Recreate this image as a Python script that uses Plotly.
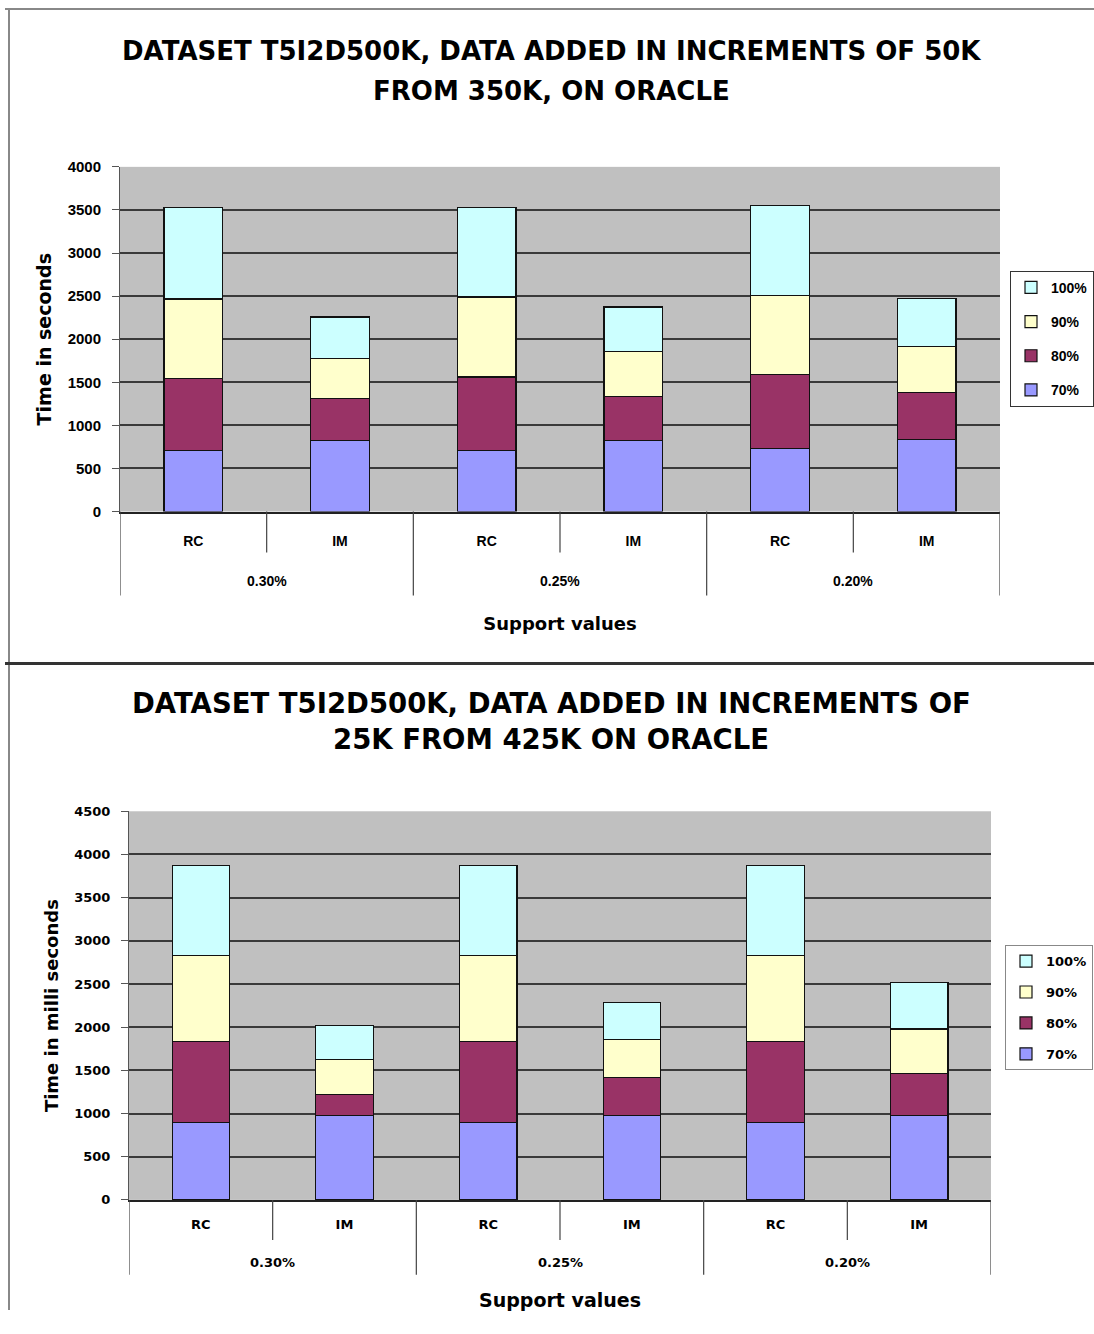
import plotly.graph_objects as go
from plotly.subplots import make_subplots

# ---- data ----
support_groups = ["0.30%", "0.30%", "0.25%", "0.25%", "0.20%", "0.20%"]
methods = ["RC", "IM", "RC", "IM", "RC", "IM"]
series_names = ["70%", "80%", "90%", "100%"]
colors = ["#9999FF", "#993366", "#FFFFCC", "#CCFFFF"]

# Chart 1: increments of 50K from 350K (seconds), segment heights
top_70 = [705, 821, 705, 821, 732, 836]
top_80 = [836, 489, 856, 512, 860, 544]
top_90 = [925, 463, 928, 528, 917, 531]
top_100 = [1060, 485, 1037, 513, 1040, 559]

# Chart 2: increments of 25K from 425K (milli seconds), segment heights
bot_70 = [900, 977, 900, 977, 900, 977]
bot_80 = [935, 240, 935, 441, 935, 483]
bot_90 = [996, 405, 996, 436, 996, 518]
bot_100 = [1039, 398, 1039, 436, 1039, 540]

top_title = ["DATASET T5I2D500K, DATA ADDED IN INCREMENTS OF 50K", "FROM 350K, ON ORACLE"]
bot_title = ["DATASET T5I2D500K, DATA ADDED IN INCREMENTS OF", "25K FROM 425K ON ORACLE"]

W, H = 1094, 1318
YOFF = 8
K = 0.988


def px(x):
    return x / W


def py(y):
    return 1 - ((y - YOFF) / K) / H


# category positions on the x axis (one slot per bar)
xpos = list(range(len(methods)))
group_names = list(dict.fromkeys(support_groups))
group_centers, group_bounds = [], [xpos[0] - 0.5]
for g in group_names:
    idx = [i for i, v in zip(xpos, support_groups) if v == g]
    group_centers.append(sum(idx) / len(idx))
    group_bounds.append(max(idx) + 0.5)
inner_bounds = [i + 0.5 for i in xpos[:-1] if support_groups[i] == support_groups[i + 1]]

fig = make_subplots(rows=2, cols=1)

for k, (vals, name, col) in enumerate(zip([top_70, top_80, top_90, top_100], series_names, colors)):
    fig.add_trace(go.Bar(x=xpos, y=vals, name=name, legendgroup="t" + name, legendrank=10 - k,
                         marker=dict(color=col, line=dict(color="#111", width=1.2)),
                         legend="legend"), row=1, col=1)
for k, (vals, name, col) in enumerate(zip([bot_70, bot_80, bot_90, bot_100], series_names, colors)):
    fig.add_trace(go.Bar(x=xpos, y=vals, name=name, legendgroup="b" + name, legendrank=10 - k,
                         marker=dict(color=col, line=dict(color="#111", width=1.2)),
                         legend="legend2"), row=2, col=1)

top_font = "Liberation Sans"
wide_font = "DejaVu Sans"

fig.update_layout(
    width=W, height=H,
    margin=dict(l=0, r=0, t=0, b=0),
    paper_bgcolor="white",
    plot_bgcolor="#C0C0C0",
    barmode="stack",
    bargap=0.6,
    showlegend=True,
    font=dict(family=top_font, color="black"),
    xaxis=dict(domain=[px(120), px(1000)], range=[xpos[0] - 0.5, xpos[-1] + 0.5],
               tickmode="array", tickvals=xpos, ticktext=methods, ticks="",
               showline=True, linecolor="#222", linewidth=1.5, ticklabelstandoff=16,
               tickfont=dict(family=top_font, size=14, color="black", weight="bold"),
               title=dict(text="<b>Support values</b>", font=dict(family=wide_font, size=18), standoff=69),
               showgrid=False, zeroline=False),
    yaxis=dict(domain=[py(511), py(166)], range=[0, 4000], dtick=500, showgrid=True, gridcolor="#3a3a3a", gridwidth=1.5,
               showline=True, linecolor="#555", linewidth=1, ticks="outside", ticklen=7, tickcolor="#555",
               ticklabelstandoff=8,
               tickfont=dict(family=top_font, size=15, color="black", weight="bold"),
               title=dict(text="<b>Time in seconds</b>", font=dict(family=wide_font, size=19), standoff=10),
               zeroline=False),
    xaxis2=dict(domain=[px(129), px(991)], range=[xpos[0] - 0.5, xpos[-1] + 0.5],
                tickmode="array", tickvals=xpos, ticktext=methods, ticks="",
                showline=True, linecolor="#222", linewidth=1.5, ticklabelstandoff=12,
                tickfont=dict(family=wide_font, size=13, color="black", weight="bold"),
                title=dict(text="<b>Support values</b>", font=dict(family=wide_font, size=19), standoff=62),
                showgrid=False, zeroline=False),
    yaxis2=dict(domain=[py(1200), py(811)], range=[0, 4500], dtick=500, showgrid=True, gridcolor="#3a3a3a", gridwidth=1.5,
                showline=True, linecolor="#555", linewidth=1, ticks="outside", ticklen=7, tickcolor="#555",
                ticklabelstandoff=8,
                tickfont=dict(family=wide_font, size=13, color="black", weight="bold"),
                title=dict(text="<b>Time in milli seconds</b>", font=dict(family=wide_font, size=18), standoff=10),
                zeroline=False),
    legend=dict(x=px(1010), y=py(270), xanchor="left", yanchor="top", bgcolor="white", bordercolor="#333",
                borderwidth=1, traceorder="grouped", tracegroupgap=13,
                font=dict(family=top_font, size=14, weight="bold"), itemwidth=30),
    legend2=dict(x=px(1005), y=py(945), xanchor="left", yanchor="top", bgcolor="white", bordercolor="#888",
                 borderwidth=1, traceorder="grouped", tracegroupgap=11,
                 font=dict(family=wide_font, size=13, weight="bold"), itemwidth=30),
)

# group labels and separators of the two-level category axis
axis_specs = [
    ("x", 511, 552, 595, 581, top_font, 14),
    ("x2", 1200, 1240, 1275, 1263, wide_font, 13),
]
for xr, y_axis, y_inner, y_div, y_lab, fam, fs in axis_specs:
    for b in group_bounds:
        fig.add_shape(type="line", xref=xr, yref="paper", x0=b, x1=b, y0=py(y_axis), y1=py(y_div),
                      line=dict(color="#444", width=1.2))
    for b in inner_bounds:
        fig.add_shape(type="line", xref=xr, yref="paper", x0=b, x1=b, y0=py(y_axis), y1=py(y_inner),
                      line=dict(color="#444", width=1.2))
    for c, g in zip(group_centers, group_names):
        fig.add_annotation(text=g, x=c, y=py(y_lab), xref=xr, yref="paper", showarrow=False,
                           font=dict(family=fam, size=fs, weight="bold", color="black"),
                           xanchor="center", yanchor="middle")

# titles
for txt, yy in zip(top_title, [50, 90]):
    fig.add_annotation(text=txt, x=px(551), y=py(yy), xref="paper", yref="paper", showarrow=False,
                       font=dict(family=wide_font, size=26, weight="bold"), xanchor="center", yanchor="middle")
for txt, yy in zip(bot_title, [703, 739]):
    fig.add_annotation(text=txt, x=px(551), y=py(yy), xref="paper", yref="paper", showarrow=False,
                       font=dict(family=wide_font, size=27.5, weight="bold"), xanchor="center", yanchor="middle")

# panel frame
fig.add_shape(type="line", xref="paper", yref="paper", x0=px(5), x1=1, y0=1, y1=1, line=dict(color="#888", width=2))
fig.add_shape(type="line", xref="paper", yref="paper", x0=px(9), x1=px(9), y0=1, y1=0, line=dict(color="#888", width=2))
fig.add_shape(type="line", xref="paper", yref="paper", x0=px(5), x1=1, y0=py(663), y1=py(663), line=dict(color="#333", width=3))

fig.write_html("out.html")
